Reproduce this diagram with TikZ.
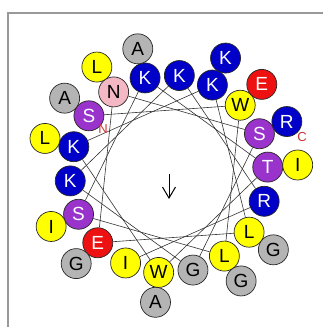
\documentclass[tikz,border=0pt]{standalone}
\usepackage{fontspec}
\setmainfont{Liberation Sans}
\usetikzlibrary{arrows.meta,calc}
\definecolor{cbl}{HTML}{0000C8}
\definecolor{cye}{HTML}{FFFF00}
\definecolor{cpu}{HTML}{9933CC}
\definecolor{crd}{HTML}{EE1111}
\definecolor{cgy}{HTML}{B4B4B4}
\definecolor{cpk}{HTML}{F4B8C4}
\definecolor{cframe}{HTML}{999999}
\definecolor{cchord}{HTML}{333333}
\definecolor{clab}{HTML}{CC3333}
\tikzset{
  res/.style={circle, draw=black!85, line width=0.7pt, minimum size=30pt, inner sep=0pt,
    font=\fontsize{19}{19}\selectfont},
  chord/.style={draw=cchord, line width=0.6pt},
  termlab/.style={text=clab, font=\fontsize{13}{13}\selectfont, inner sep=0pt},
  framestyle/.style={draw=cframe, line width=1.5pt},
  moment/.style={draw=black, line width=1pt, -{Straight Barb[length=11pt,width=13pt]}}
}
\begin{document}
\begin{tikzpicture}[x=1pt,y=1pt]
\useasboundingbox (0,0) rectangle (323,327);
\coordinate (fa) at (323,314);
\coordinate (fb) at (8,314);
\coordinate (fc) at (8,0);
\draw[framestyle] (fa) -- (fb) -- (fc);
\coordinate (c) at (169,153);
\foreach \n/\l/\f/\t in {
  1/S/cpu/white, 2/W/cye/black, 3/L/cye/black, 4/S/cpu/white, 5/K/cbl/white,
  6/T/cpu/white, 7/W/cye/black, 8/K/cbl/white, 9/K/cbl/white, 10/L/cye/black,
  11/E/crd/white, 12/N/cpk/black, 13/S/cpu/white, 14/G/cgy/black, 15/K/cbl/white,
  16/K/cbl/white, 17/R/cbl/white, 18/I/cye/black, 19/A/cgy/black, 20/E/crd/white,
  21/G/cgy/black, 22/I/cye/black, 23/A/cgy/black, 24/I/cye/black, 25/A/cgy/black,
  26/L/cye/black, 27/K/cbl/white, 28/G/cgy/black, 29/G/cgy/black, 30/L/cye/black,
  31/R/cbl/white} {
  \pgfmathsetmacro\ang{144-100*(\n-1)}
  \pgfmathsetmacro\rad{ifthenelse(\n<19,99,129)}
  \node[res, fill=\f, text=\t] (r\n) at ($(c)+(\ang:\rad pt)$) {\l};
}
\foreach \i [evaluate=\i as \j using int(\i+1)] in {1,...,17}
  \draw[chord] (r\i) -- (r\j);
\coordinate (mend) at (169,128);
\draw[moment] (c) -- (mend);
\node[termlab] (nterm) at (103,198) {N};
\node[termlab] (cterm) at (302,190) {C};
\end{tikzpicture}
\end{document}
